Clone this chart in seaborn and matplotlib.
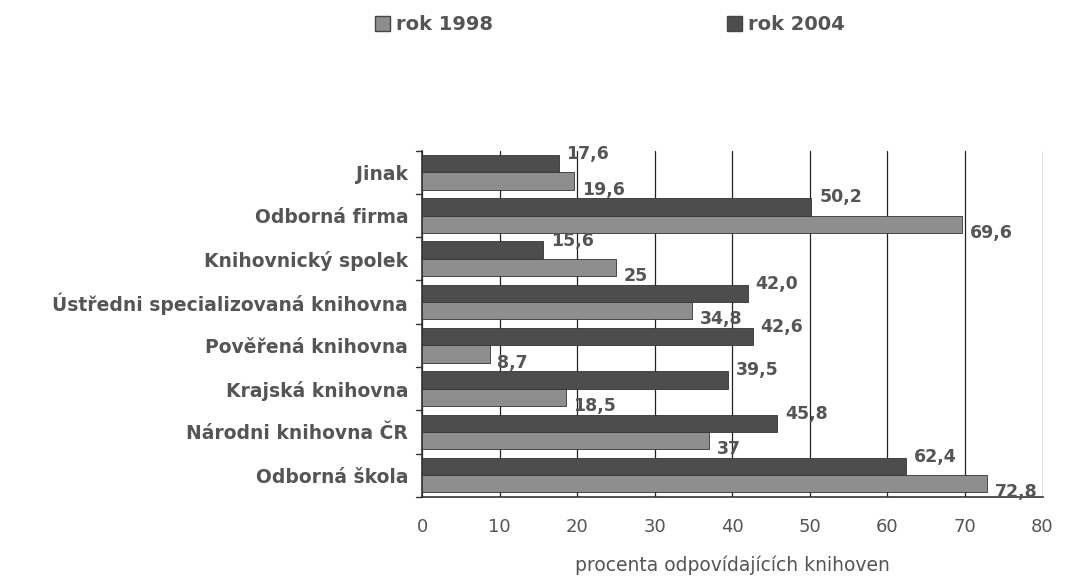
import matplotlib
matplotlib.use("Agg")
import matplotlib.pyplot as plt
import seaborn as sns
import pandas as pd
from matplotlib.patches import Patch

categories = ["Jinak", "Odborná firma", "Knihovnický spolek",
              "Ústředni specializovaná knihovna", "Pověřená knihovna",
              "Krajská knihovna", "Národni knihovna ČR", "Odborná škola"]
values_2004 = [17.6, 50.2, 15.6, 42.0, 42.6, 39.5, 45.8, 62.4]
values_1998 = [19.6, 69.6, 25, 34.8, 8.7, 18.5, 37, 72.8]
labels_2004 = ["17,6", "50,2", "15,6", "42,0", "42,6", "39,5", "45,8", "62,4"]
labels_1998 = ["19,6", "69,6", "25", "34,8", "8,7", "18,5", "37", "72,8"]
series_names = ["rok 1998", "rok 2004"]
x_ticks = [0, 10, 20, 30, 40, 50, 60, 70, 80]
x_title = "procenta odpovídajících knihoven"

df = pd.DataFrame({
    "kategorie": categories * 2,
    "hodnota": values_2004 + values_1998,
    "rok": ["rok 2004"] * len(categories) + ["rok 1998"] * len(categories),
})

sns.set_theme(style="white")
plt.rcParams["font.family"] = ["DejaVu Sans"]

col_dark = "#4d4d4d"
col_light = "#8e8e8e"
txt = "#555555"

fig = plt.figure(figsize=(10.66, 5.77), dpi=100)
ax = fig.add_axes([0.396, 0.139, 0.582, 0.60])

sns.barplot(data=df, y="kategorie", x="hodnota", hue="rok",
            hue_order=["rok 2004", "rok 1998"], order=categories,
            palette={"rok 2004": col_dark, "rok 1998": col_light},
            orient="h", width=0.8, edgecolor="#333333", linewidth=0.6,
            ax=ax, legend=False, zorder=3)

ax.set_xlim(0, 80)
ax.set_xticks(x_ticks)
ax.set_xticklabels([str(t) for t in x_ticks], fontsize=13, color=txt)
ax.tick_params(axis="x", length=5, color="#333333", pad=10)
ax.set_ylim(len(categories) - 0.5, -0.5)
ax.set_yticks(range(len(categories)))
ax.set_yticklabels(categories, fontsize=13.5, fontweight="bold", color=txt)
ax.tick_params(axis="y", length=0, pad=10)
for b in [i - 0.5 for i in range(len(categories) + 1)]:
    ax.plot([-0.8, 0], [b, b], color="#333333", lw=1, clip_on=False)
ax.set_ylabel("")
ax.set_xlabel(x_title, fontsize=13.5, color=txt, labelpad=14)

ax.grid(axis="x", color="#222222", linewidth=0.9, zorder=0)
ax.set_axisbelow(True)
for s in ["top", "right"]:
    ax.spines[s].set_visible(False)
ax.spines["left"].set_color("#333333")
ax.spines["bottom"].set_color("#333333")
ax.spines["left"].set_linewidth(1.2)
ax.spines["bottom"].set_linewidth(1.2)

for i in range(len(categories)):
    ax.text(values_2004[i] + 1.0, i - 0.42, labels_2004[i], fontsize=12.5,
            fontweight="bold", color=txt, va="center", ha="left", zorder=4)
    ax.text(values_1998[i] + 1.0, i + 0.40, labels_1998[i], fontsize=12.5,
            fontweight="bold", color=txt, va="center", ha="left", zorder=4)

handles = [Patch(facecolor=col_light, edgecolor="#444444"),
           Patch(facecolor=col_dark, edgecolor="#444444")]
leg = fig.legend(handles, series_names, loc="center", bbox_to_anchor=(0.572, 0.957),
                 ncol=2, frameon=False, columnspacing=12, handlelength=0.8,
                 handleheight=0.8, handletextpad=0.3,
                 prop={"weight": "bold", "size": 14})
for t in leg.get_texts():
    t.set_color(txt)

fig.savefig("out.png", dpi=100, facecolor="white")
